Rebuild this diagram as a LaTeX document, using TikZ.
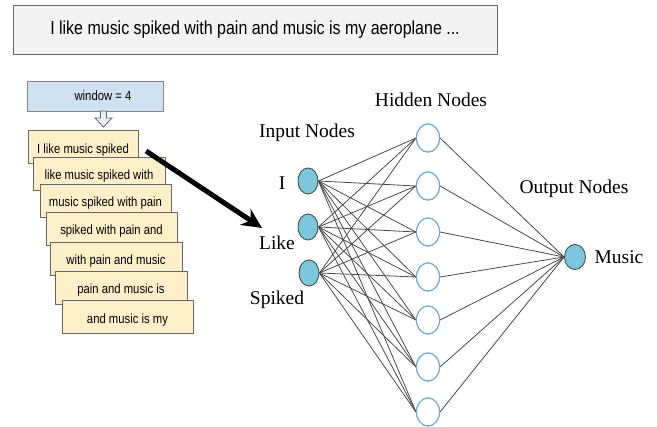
\documentclass[tikz,border=0pt]{standalone}
\usepackage{fontspec}
\usetikzlibrary{shapes.geometric,shapes.misc,arrows.meta}
\newfontfamily\slidefont[FakeStretch=0.85]{Liberation Sans}
\newfontfamily\netfont{Liberation Serif}
\definecolor{bannerfill}{HTML}{F3F3F3}
\definecolor{boxline}{HTML}{666666}
\definecolor{winfill}{HTML}{CFE2F3}
\definecolor{cardfill}{HTML}{FDF0C8}
\definecolor{inputfill}{HTML}{7CC7DD}
\definecolor{hiddenline}{HTML}{6FA8DC}
\definecolor{edgecol}{HTML}{4A4A4A}
\tikzset{
  banner/.style={chamfered rectangle, chamfered rectangle corners=north east,
    chamfered rectangle xsep=4pt, chamfered rectangle ysep=10pt,
    draw=boxline, fill=bannerfill, line width=0.9pt, inner sep=0pt,
    minimum width=484pt, minimum height=49pt},
  winbox/.style={rectangle, draw=boxline!80, fill=winfill, line width=0.8pt,
    minimum width=136pt, minimum height=30pt, inner sep=0pt},
  card/.style={chamfered rectangle, chamfered rectangle corners=north east,
    chamfered rectangle xsep=3.5pt, chamfered rectangle ysep=7pt,
    draw=boxline, fill=cardfill, line width=0.8pt, inner sep=0pt,
    minimum height=33pt, anchor=north},
  cardtext/.style={font=\slidefont\fontsize{13.3}{15}\selectfont, inner sep=0pt},
  innode/.style={ellipse, draw=edgecol, fill=inputfill, line width=0.9pt,
    minimum width=20pt, minimum height=26pt, inner sep=0pt},
  hidnode/.style={ellipse, draw=hiddenline, fill=white, line width=1.1pt,
    minimum width=23pt, minimum height=28pt, inner sep=0pt},
  outnode/.style={ellipse, draw=edgecol, fill=inputfill, line width=0.9pt,
    minimum width=21pt, minimum height=25pt, inner sep=0pt},
  netlabel/.style={font=\netfont\fontsize{19.5}{21}\selectfont, inner sep=0pt},
  link/.style={draw=edgecol, line width=0.8pt},
}
\begin{document}
\begin{tikzpicture}[x=1pt,y=-1pt]
\useasboundingbox (0,0) rectangle (657,427);

% sentence banner
\node[banner] (sentence) at (255,29.5) {};
\node[font=\slidefont\fontsize{18.8}{20}\selectfont, inner sep=0pt] (sentencetext) at (255,30)
  {I like music spiked with pain and music is my aeroplane ...};

% window size box and its hollow down arrow
\node[winbox] (window) at (95,96) {};
\node[font=\slidefont\fontsize{13.3}{15}\selectfont, inner sep=0pt] (windowtext) at (103,96) {window = 4};
\draw[boxline, fill=winfill!50, line width=0.8pt]
  (100.5,111) -- (106.5,111) -- (106.5,118) -- (112,118) -- (103.5,127)
  -- (95,118) -- (100.5,118) -- cycle;

% sliding-window cards
\node[card, minimum width=110pt] (c1) at (83,130) {};
\node[cardtext] (t1) at (83,150) {I like music spiked};
\node[card, minimum width=132pt] (c2) at (99,157) {};
\node[cardtext] (t2) at (99,176) {like music spiked with};
\node[card, minimum width=131pt] (c3) at (105.5,184) {};
\node[cardtext] (t3) at (105.5,203) {music spiked with pain};
\node[card, minimum width=131pt] (c4) at (111.5,212) {};
\node[cardtext] (t4) at (111.5,231) {spiked with pain and};
\node[card, minimum width=132pt] (c5) at (116,242) {};
\node[cardtext] (t5) at (116,261) {with pain and music};
\node[card, minimum width=132pt] (c6) at (121,271) {};
\node[cardtext] (t6) at (121,290) {pain and music is};
\node[card, minimum width=131pt] (c7) at (127.5,300) {};
\node[cardtext] (t7) at (127.5,320) {and music is my};

% network
\node[innode] (i1) at (308,181) {};
\node[innode] (i2) at (308,227) {};
\node[innode] (i3) at (309,273) {};
\foreach \k/\y in {1/138,2/186,3/232,4/277,5/320,6/367,7/412}
  \node[hidnode] (h\k) at (428,\y) {};
\node[outnode] (o1) at (575,257) {};

\foreach \i in {1,2,3}
  \foreach \k in {1,...,7}
    \draw[link] (i\i.east) -- (h\k.west);
\foreach \k in {1,...,7}
  \draw[link] (h\k.east) -- (o1.west);
\foreach \k in {1,...,7}
  \node[hidnode] at (h\k) {};

% labels
\node[netlabel] (lhid) at (431,100) {Hidden Nodes};
\node[netlabel] (lin) at (307,133) {Input Nodes};
\node[netlabel] (lI) at (282,183) {I};
\node[netlabel] (lLike) at (277,243) {Like};
\node[netlabel] (lSpiked) at (277,300) {Spiked};
\node[netlabel] (lout) at (574,189) {Output Nodes};
\node[netlabel] (lmusic) at (619,257) {Music};

% arrow from the first window into the network
\coordinate (arrowstart) at (146,151);
\coordinate (arrowend) at (262,228);
\draw[black, line width=5pt, -{Stealth[length=20pt,width=19pt]}] (arrowstart) -- (arrowend);
\end{tikzpicture}
\end{document}
